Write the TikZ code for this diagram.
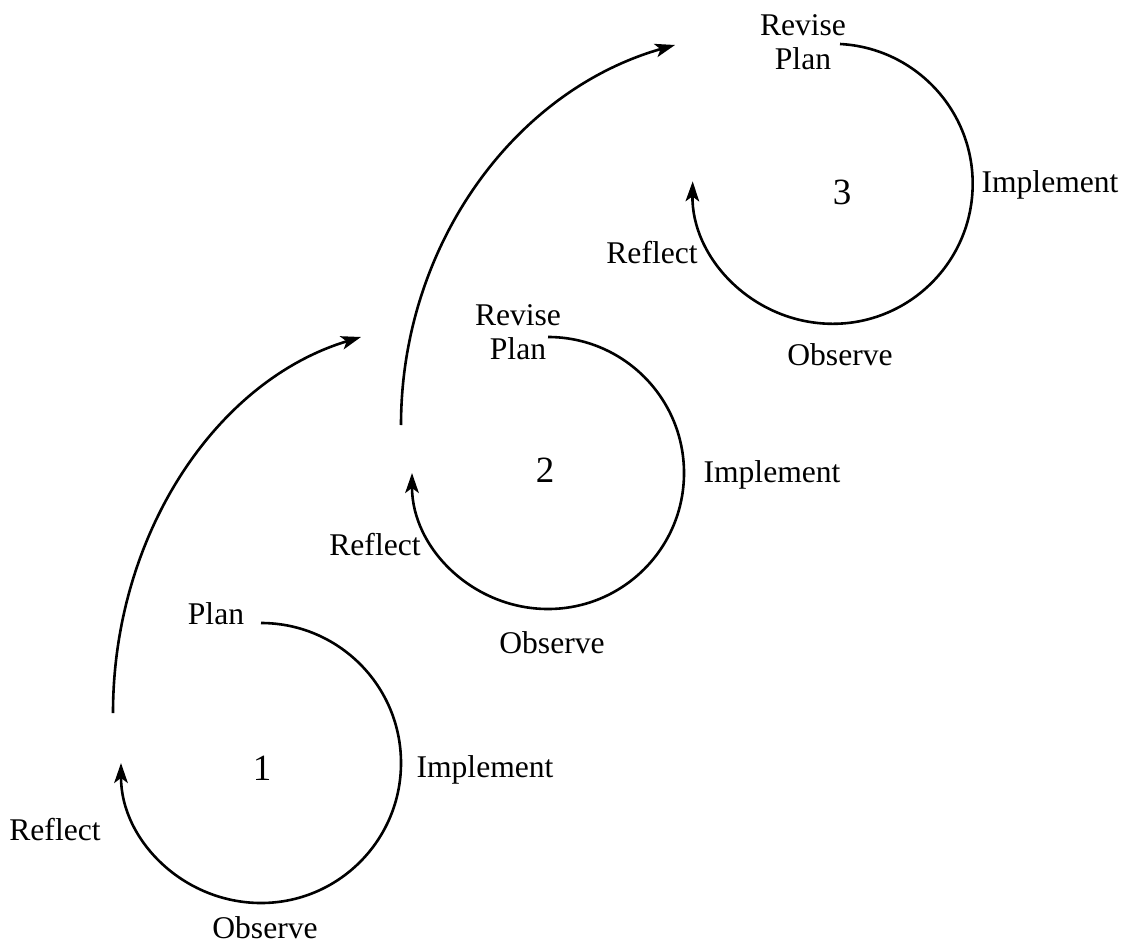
\documentclass[tikz,border=0pt]{standalone}
\usepackage{fontspec}
\setmainfont{Liberation Serif}
\usetikzlibrary{arrows.meta}
\begin{document}
\begin{tikzpicture}[x=0.5pt,y=0.5pt,
  cyc/.style={line width=1.3pt,-{Stealth[length=10pt,width=6.8pt,inset=2.5pt]}},
  lbl/.style={font=\fontsize{15.8}{16.75}\selectfont, inner sep=0pt, align=center},
  num/.style={font=\fontsize{18.5}{20}\selectfont, inner sep=0pt, anchor=base}]
\useasboundingbox (0,0) rectangle (1122,944);
% cycle 1
\coordinate (c1s) at (261,321);
\draw[cyc] (c1s) arc[start angle=90, end angle=-180, radius=70pt];
\node[lbl, anchor=base] (p1) at (216,320) {Plan};
\node[num] (n1) at (262,164) {1};
\node[lbl, anchor=base] (i1) at (485,167) {Implement};
\node[lbl, anchor=base] (o1) at (265,6) {Observe};
\node[lbl, anchor=base] (r1) at (55,104) {Reflect};
% big arc 1
\coordinate (b1s) at (113,231);
\coordinate (b1e) at (361,607);
\draw[cyc] (b1s) .. controls (113,408) and (215,563) .. (b1e);
% cycle 2
\coordinate (c2s) at (548,607);
\draw[cyc] (c2s) arc[start angle=90, end angle=-180, radius=68pt];
\node[lbl] (p2) at (518,612) {Revise\\Plan};
\node[num] (n2) at (545,462) {2};
\node[lbl, anchor=base] (i2) at (772,462) {Implement};
\node[lbl, anchor=base] (o2) at (552,291) {Observe};
\node[lbl, anchor=base] (r2) at (375,389) {Reflect};
% big arc 2
\coordinate (b2s) at (401,519);
\coordinate (b2e) at (675,899);
\draw[cyc] (b2s) .. controls (401,697) and (513,853) .. (b2e);
% cycle 3
\coordinate (c3s) at (840,900);
\draw[cyc] (c3s) arc[start angle=87, end angle=-181, radius=70pt];
\node[lbl] (p3) at (803,902) {Revise\\Plan};
\node[num] (n3) at (842,739) {3};
\node[lbl, anchor=base] (i3) at (1050,751) {Implement};
\node[lbl, anchor=base] (o3) at (840,579) {Observe};
\node[lbl, anchor=base] (r3) at (652,681) {Reflect};
\end{tikzpicture}
\end{document}
